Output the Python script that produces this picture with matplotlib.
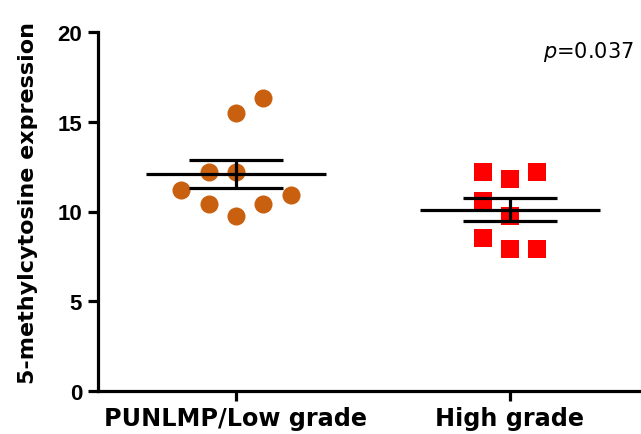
import numpy as np
import matplotlib
matplotlib.use("Agg")
import matplotlib.pyplot as plt

plt.rcParams['font.family'] = ['Liberation Sans', 'DejaVu Sans']

categories = ["PUNLMP/Low grade", "High grade"]
low_grade = [16.3, 15.5, 12.2, 12.2, 11.2, 10.4, 9.75, 10.4, 10.9]
high_grade = [12.2, 11.8, 12.2, 10.6, 9.75, 8.5, 7.9, 7.9]
p_value = "0.037"
y_ticks = [0, 5, 10, 15, 20]

# horizontal spread of the dots around each category
low_offsets = [0.1, 0.0, -0.1, 0.0, -0.2, -0.1, 0.0, 0.1, 0.2]
high_offsets = [-0.1, 0.0, 0.1, -0.1, 0.0, -0.1, 0.0, 0.1]

W, H = 641, 435
fig = plt.figure(figsize=(W / 100, H / 100), dpi=100)
ax = fig.add_axes([98 / W, (H - 392) / H, 1 - 98 / W, (392 - 33) / H])

groups = [
    (low_grade, low_offsets, dict(marker='o', color='#C8600F')),
    (high_grade, high_offsets, dict(marker='s', color='#FF0000')),
]
for i, (vals, offs, style) in enumerate(groups, start=1):
    vals = np.asarray(vals)
    xs = i + np.asarray(offs)
    ax.plot(xs, vals, linestyle='none', markersize=13, markeredgewidth=0,
            zorder=2, **style)
    mean = vals.mean()
    sem = vals.std(ddof=1) / np.sqrt(len(vals))
    ax.hlines(mean, i - 0.33, i + 0.33, color='black', lw=2.3, zorder=3)
    ax.hlines([mean - sem, mean + sem], i - 0.17, i + 0.17, color='black',
              lw=2.3, zorder=3)
    ax.vlines(i, mean - sem, mean + sem, color='black', lw=2.3, zorder=3)

ax.set_xlim(1 - 138 / 274, 1 + 405 / 274)
ax.set_ylim(0, 20)
ax.set_xticks([1, 2])
ax.set_xticklabels(categories, fontsize=17.2, fontweight='bold',
                   family='DejaVu Sans')
ax.set_yticks(y_ticks)
ax.set_yticklabels([str(t) for t in y_ticks], fontsize=16, fontweight='bold')

for side in ('top', 'right'):
    ax.spines[side].set_visible(False)
for side in ('left', 'bottom'):
    ax.spines[side].set_linewidth(2.3)
ax.tick_params(axis='both', width=2.3, length=7.5, color='black')
ax.tick_params(axis='y', pad=4)
ax.tick_params(axis='x', pad=3)

fig.text(28 / W, 1 - 203 / H, "5-methylcytosine expression", rotation=90,
         ha='center', va='center', fontsize=16, fontweight='bold',
         family='DejaVu Sans')

fig.text(634 / W, 1 - 58 / H, r"$p$=" + p_value, ha='right', va='baseline',
         fontsize=15, family='DejaVu Sans')

fig.savefig("out.png", dpi=100, facecolor='white')
